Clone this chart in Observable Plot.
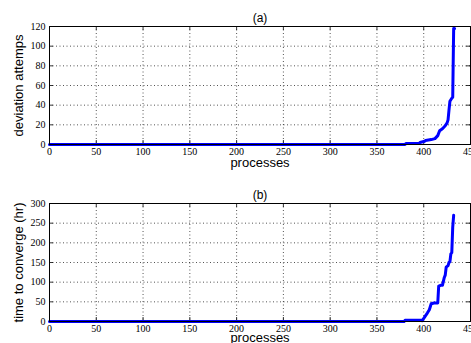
<!DOCTYPE html>
<html>
<head>
<meta charset="utf-8">
<script src="https://cdn.jsdelivr.net/npm/d3@7"></script>
<script src="https://cdn.jsdelivr.net/npm/@observablehq/plot@0.6"></script>
<style>
  html, body { margin: 0; padding: 0; background: white; }
  #chart svg { display: block; }
  #chart g[aria-label="x-axis tick label"] text,
  #chart g[aria-label="y-axis tick label"] text,
  #chart g[aria-label="x-axis tick label"],
  #chart g[aria-label="y-axis tick label"] { font-family: "Liberation Serif", "Times New Roman", serif; font-size: 10px; }
</style>
</head>
<body>
<div id="chart"></div>
<script>
// ---- data ----
const procA = [0, 380, 381, 395, 396, 400, 402, 408, 412, 415, 417, 420, 423, 425, 426, 427, 428, 430, 431, 432, 433];
const attemptsA = [0, 0, 1, 1, 2, 3, 4, 5, 6, 9, 14, 16, 19, 22, 25, 35, 44, 47, 48, 118, 118];

const procB = [0, 379, 380, 397, 398, 400, 402, 404, 406, 408, 411, 415, 416, 418, 420, 422, 423, 424, 426, 427, 428, 429, 430, 431, 432];
const timeB = [0, 0, 3, 3, 2, 8, 15, 22, 30, 45, 47, 47, 90, 92, 92, 112, 118, 138, 142, 150, 152, 172, 175, 240, 270];

const xTicks = [0, 50, 100, 150, 200, 250, 300, 350, 400, 450];
const yTicksA = [0, 20, 40, 60, 80, 100, 120];
const yTicksB = [0, 50, 100, 150, 200, 250, 300];

const titleA = "(a)", titleB = "(b)";
const xLabel = "processes";
const yLabelA = "deviation attemps";
const yLabelB = "time to converge (hr)";

const dataA = procA.map((p, i) => ({p, v: attemptsA[i]}));
const dataB = procB.map((p, i) => ({p, v: timeB[i]}));

const W = 471;
const sans = "Liberation Sans, Arial, Helvetica, sans-serif";
const serif = "Liberation Serif, Times New Roman, serif";

function panel({data, yDomain, yTicks, title, yLabel, height, mt, mb, xlabDy, titleDy}) {
  const ml = 49, mr = 1;
  const fw = W - ml - mr;
  const fh = height - mt - mb;
  const tick = 4;
  return Plot.plot({
    width: W,
    height,
    marginLeft: ml,
    marginRight: mr,
    marginTop: mt,
    marginBottom: mb,
    style: {fontFamily: serif, fontSize: "10px", background: "white", color: "black"},
    x: {domain: [0, 450], ticks: xTicks},
    y: {domain: yDomain, ticks: yTicks},
    marks: [
      Plot.gridX(xTicks, {stroke: "black", strokeOpacity: 0.85, strokeWidth: 0.8, strokeDasharray: "1,2.5"}),
      Plot.gridY(yTicks, {stroke: "black", strokeOpacity: 0.85, strokeWidth: 0.8, strokeDasharray: "1,2.5"}),
      Plot.tickX(xTicks, {x: d => d, stroke: "black", strokeWidth: 0.8, insetTop: fh - tick}),
      Plot.tickX(xTicks, {x: d => d, stroke: "black", strokeWidth: 0.8, insetBottom: fh - tick}),
      Plot.tickY(yTicks, {y: d => d, stroke: "black", strokeWidth: 0.8, insetRight: fw - tick}),
      Plot.tickY(yTicks, {y: d => d, stroke: "black", strokeWidth: 0.8, insetLeft: fw - tick}),
      Plot.axisX(xTicks, {tickSize: 0, tickPadding: 3, label: null, fontFamily: serif, fontSize: 10}),
      Plot.axisY(yTicks, {tickSize: 0, tickPadding: 4, label: null, fontFamily: serif, fontSize: 10}),
      Plot.line(data, {x: "p", y: "v", stroke: "#0000ff", strokeWidth: 3, strokeLinejoin: "round"}),
      Plot.frame({stroke: "black", strokeWidth: 1}),
      Plot.text([title], {frameAnchor: "top", lineAnchor: "middle", dy: titleDy, fontFamily: sans, fontSize: 12, fill: "black"}),
      Plot.text([xLabel], {frameAnchor: "bottom", lineAnchor: "middle", dy: xlabDy, fontFamily: sans, fontSize: 13, fill: "black"}),
      Plot.text([yLabel], {frameAnchor: "left", textAnchor: "middle", lineAnchor: "middle", dx: -31, rotate: -90, fontFamily: sans, fontSize: 13, fill: "black"})
    ]
  });
}

const chart = document.getElementById("chart");
chart.append(panel({data: dataA, yDomain: [0, 120], yTicks: yTicksA, title: titleA, yLabel: yLabelA, height: 170, mt: 26, mb: 26, xlabDy: 18, titleDy: -8}));
chart.append(panel({data: dataB, yDomain: [0, 300], yTicks: yTicksB, title: titleB, yLabel: yLabelB, height: 173, mt: 33, mb: 22, xlabDy: 16, titleDy: -8}));
</script>
</body>
</html>
